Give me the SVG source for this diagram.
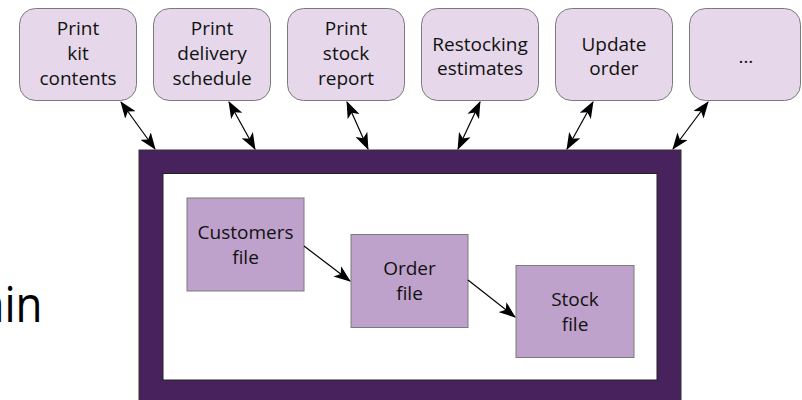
<svg xmlns="http://www.w3.org/2000/svg" width="802" height="400" viewBox="0 0 802 400">
<defs>
<style>
.t{font-family:"Open Sans","Noto Sans","DejaVu Sans",sans-serif;font-size:19px;fill:#111;text-anchor:middle}
.proc{fill:#e6d8ea;stroke:#7a7a7a;stroke-width:1}
.file{fill:#bfa2cb;stroke:#7a7a7a;stroke-width:1}
.c{stroke:#000;stroke-width:1.2;fill:none}
</style>
<marker id="ah" viewBox="0 0 16 12" markerWidth="17" markerHeight="13" refX="15" refY="6" orient="auto-start-reverse" markerUnits="userSpaceOnUse">
<path d="M0,0 L16,6 L0,12 L4,6 Z" fill="#000"/>
</marker>
</defs>
<text transform="translate(-20,322) scale(1,1.1)" style="font-family:'Open Sans','Noto Sans',sans-serif;font-size:44px;fill:#000">ain</text>
<g id="system">
<rect x="139" y="150" width="542" height="260" fill="#48225c" stroke="#333" stroke-width="1"/>
<rect x="163" y="173.5" width="494" height="206.5" fill="#fff" stroke="#222" stroke-width="1"/>
</g>
<g id="n1"><rect class="proc" x="19.5" y="8.5" width="117" height="92" rx="16"/>
<text class="t" x="78" y="35">Print</text><text class="t" x="78" y="60">kit</text><text class="t" x="78" y="85">contents</text></g>
<g id="n2"><rect class="proc" x="153.5" y="8.5" width="117" height="92" rx="16"/>
<text class="t" x="212" y="35">Print</text><text class="t" x="212" y="60">delivery</text><text class="t" x="212" y="85">schedule</text></g>
<g id="n3"><rect class="proc" x="287.5" y="8.5" width="117" height="92" rx="16"/>
<text class="t" x="346" y="35">Print</text><text class="t" x="346" y="60">stock</text><text class="t" x="346" y="85">report</text></g>
<g id="n4"><rect class="proc" x="421.5" y="8.5" width="117" height="92" rx="16"/>
<text class="t" x="480" y="51">Restocking</text><text class="t" x="480" y="75">estimates</text></g>
<g id="n5"><rect class="proc" x="555.5" y="8.5" width="117" height="92" rx="16"/>
<text class="t" x="614" y="51">Update</text><text class="t" x="614" y="75">order</text></g>
<g id="n6"><rect class="proc" x="689.5" y="8.5" width="111" height="92" rx="16"/>
<text class="t" x="746" y="63">…</text></g>
<g id="customers"><rect class="file" x="187" y="198" width="117" height="93"/>
<text class="t" x="245.5" y="239">Customers</text><text class="t" x="245.5" y="264">file</text></g>
<g id="order"><rect class="file" x="351" y="234.5" width="117" height="93"/>
<text class="t" x="409.5" y="275">Order</text><text class="t" x="409.5" y="300">file</text></g>
<g id="stock"><rect class="file" x="516" y="265.5" width="118" height="92"/>
<text class="t" x="575" y="306">Stock</text><text class="t" x="575" y="331">file</text></g>
<g id="connectors">
<line class="c" x1="121" y1="102" x2="155" y2="149" marker-start="url(#ah)" marker-end="url(#ah)"/>
<line class="c" x1="229" y1="102" x2="255" y2="149" marker-start="url(#ah)" marker-end="url(#ah)"/>
<line class="c" x1="347" y1="102" x2="368" y2="149" marker-start="url(#ah)" marker-end="url(#ah)"/>
<line class="c" x1="480" y1="102" x2="458" y2="149" marker-start="url(#ah)" marker-end="url(#ah)"/>
<line class="c" x1="593" y1="102" x2="567" y2="149" marker-start="url(#ah)" marker-end="url(#ah)"/>
<line class="c" x1="708" y1="102" x2="673" y2="149" marker-start="url(#ah)" marker-end="url(#ah)"/>
<line class="c" x1="304" y1="246" x2="350" y2="281" marker-end="url(#ah)"/>
<line class="c" x1="468" y1="280" x2="515" y2="317" marker-end="url(#ah)"/>
</g>
</svg>
